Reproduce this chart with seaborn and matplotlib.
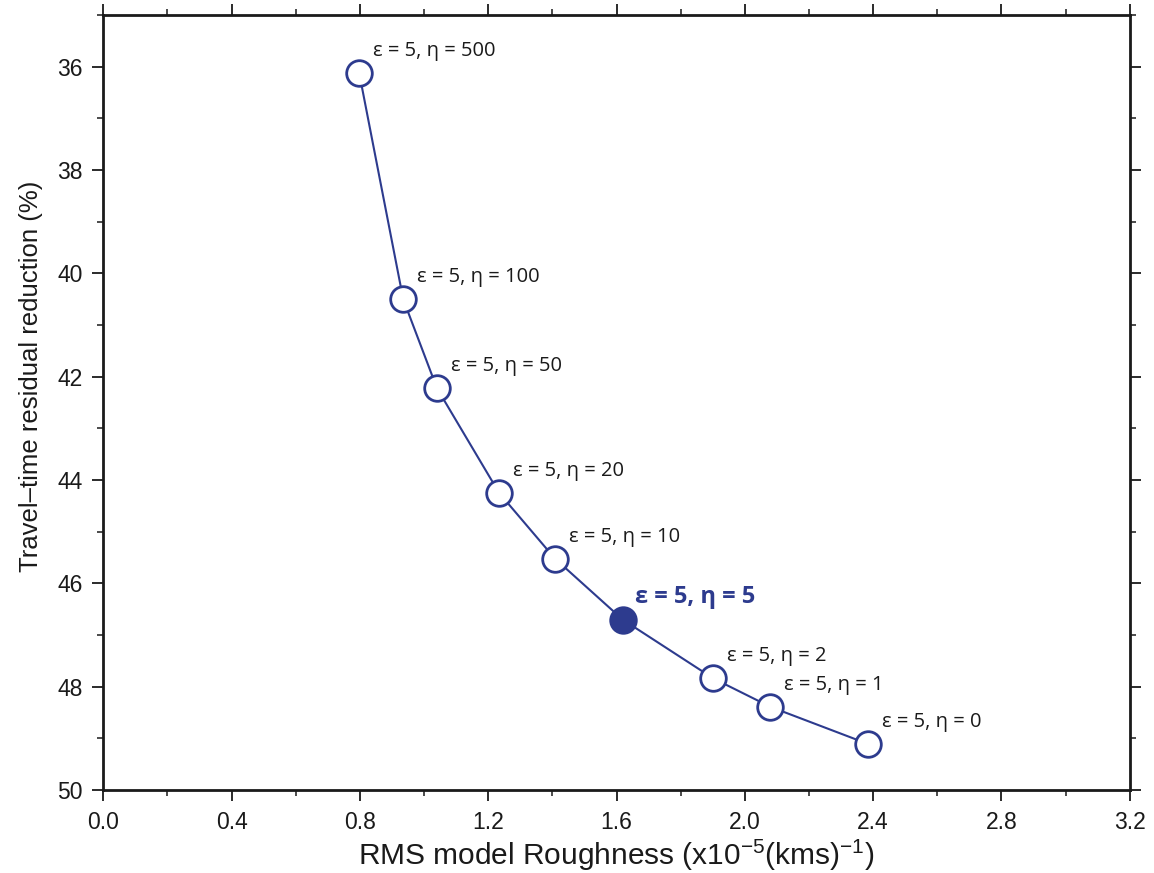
import matplotlib
matplotlib.use("Agg")
import matplotlib.pyplot as plt
import seaborn as sns
import pandas as pd
from matplotlib.ticker import MultipleLocator

# RMS model roughness (x1e-5 (km/s)^-1) and travel-time residual reduction (%)
eta_values = [500, 100, 50, 20, 10, 5, 2, 1, 0]
roughness = [0.798, 0.935, 1.040, 1.234, 1.408, 1.619, 1.902, 2.080, 2.385]
reduction = [36.13, 40.50, 42.22, 44.25, 45.52, 46.70, 47.84, 48.39, 49.11]
epsilon = 5
chosen_eta = 5

x_ticks = [0.0, 0.4, 0.8, 1.2, 1.6, 2.0, 2.4, 2.8, 3.2]
y_ticks = [36, 38, 40, 42, 44, 46, 48, 50]

df = pd.DataFrame({"eta": eta_values, "roughness": roughness, "reduction": reduction})
df["chosen"] = df["eta"] == chosen_eta

sns.set_theme(style="ticks")
plt.rcParams["font.family"] = ["Liberation Sans", "DejaVu Sans"]
plt.rcParams["mathtext.fontset"] = "custom"
plt.rcParams["mathtext.rm"] = "Liberation Sans"
plt.rcParams["mathtext.it"] = "Liberation Sans:italic"

blue = "#2d3b8e"
ink = "#1a1a1a"

fig = plt.figure(figsize=(11.54, 8.73), dpi=100)
ax = fig.add_axes([0.0895, 0.095, 0.8895, 0.8878])

sns.lineplot(data=df, x="roughness", y="reduction", sort=False, color=blue,
             linewidth=1.5, ax=ax, zorder=2)
sns.scatterplot(data=df[~df["chosen"]], x="roughness", y="reduction", s=340,
                facecolor="white", edgecolor=blue, linewidth=2.0, ax=ax, zorder=3)
sns.scatterplot(data=df[df["chosen"]], x="roughness", y="reduction", s=340,
                color=blue, edgecolor=blue, linewidth=2.0, ax=ax, zorder=3)

for _, row in df.iterrows():
    label = f"ε = {epsilon}, η = {row['eta']}"
    if row["chosen"]:
        ax.annotate(label, (row["roughness"], row["reduction"]),
                    xytext=(12, 23), textcoords="offset pixels",
                    ha="left", va="center", fontsize=17, fontweight="bold",
                    color=blue, family=["Open Sans", "DejaVu Sans"])
    else:
        ax.annotate(label, (row["roughness"], row["reduction"]),
                    xytext=(14, 22), textcoords="offset pixels",
                    ha="left", va="center", fontsize=14.5, color=ink,
                    family=["Open Sans", "DejaVu Sans"])

ax.set_xlim(0.0, 3.2)
ax.set_ylim(50, 35)
ax.set_xticks(x_ticks)
ax.set_xticklabels([f"{v:.1f}" for v in x_ticks])
ax.set_yticks(y_ticks)
ax.set_yticklabels([str(v) for v in y_ticks])
ax.xaxis.set_minor_locator(MultipleLocator(0.2))
ax.yaxis.set_minor_locator(MultipleLocator(1))

ax.tick_params(which="both", direction="out", top=True, right=True,
               labeltop=False, labelright=False, color=ink, labelcolor=ink)
ax.tick_params(which="major", length=8, width=1.3, labelsize=16.5, pad=7)
ax.tick_params(which="minor", length=4, width=1.1)
for sp in ax.spines.values():
    sp.set_linewidth(2.0)
    sp.set_color(ink)

ax.set_xlabel(r"RMS model Roughness (x10$^{-5}$(kms)$^{-1}$)", fontsize=21.5,
              labelpad=3, color=ink)
ax.set_ylabel("Travel–time residual reduction (%)", fontsize=18.5, color=ink)
ax.yaxis.set_label_coords(-0.059, 0.534)

fig.savefig("out.png", dpi=100, facecolor="white")
